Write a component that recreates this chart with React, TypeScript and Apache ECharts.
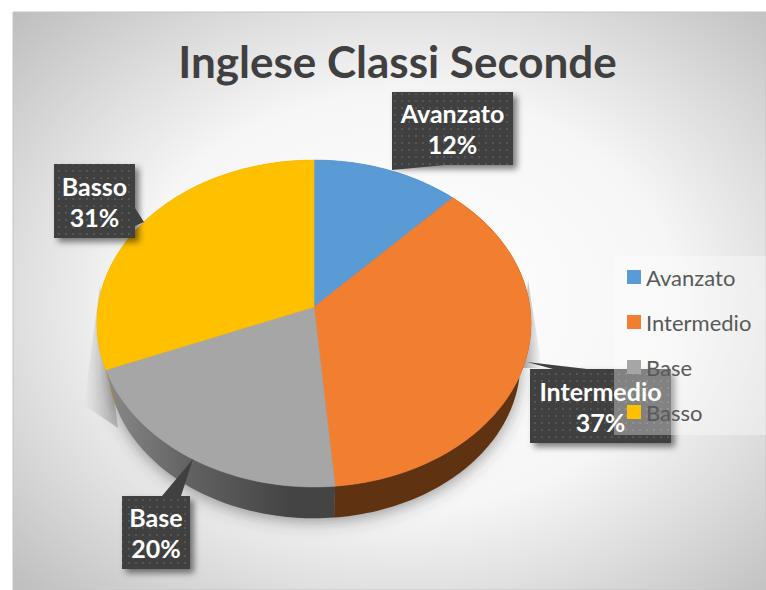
import React, { useEffect, useRef } from "react";
import * as echarts from "echarts";

const TITLE = "Inglese Classi Seconde";
const categories = ["Avanzato", "Intermedio", "Base", "Basso"];
const shares = [12.1, 36.5, 20.3, 31.1];
const percentLabels = ["12%", "37%", "20%", "31%"];
const capColors = ["#5b9bd5", "#f27f30", "#a6a6a6", "#ffc000"];

const HUB = [314, 307];
const ELLIPSE_MID_Y = 323.5;
const FLOOR_MID_Y = 363;
const FLOOR_SCALE = 0.95;

function rim(share: number): [number, number] {
  const a = (share / 100) * Math.PI * 2;
  const u = Math.sin(a);
  const v = -Math.cos(a);
  const den = 1 - 0.1009 * v;
  return [HUB[0] + (216 * u) / den, HUB[1] + (161.8 * v) / den];
}
function floor(p: [number, number]): [number, number] {
  return [
    HUB[0] + (p[0] - HUB[0]) * FLOOR_SCALE,
    FLOOR_MID_Y + (p[1] - ELLIPSE_MID_Y) * FLOOR_SCALE,
  ];
}
function arcPoints(from: number, to: number) {
  const pts: [number, number][] = [];
  const n = Math.ceil((to - from) * 3);
  for (let i = 0; i <= n; i++) pts.push(rim(from + ((to - from) * i) / n));
  return pts;
}

function makeDotPattern() {
  const c = document.createElement("canvas");
  c.width = 7;
  c.height = 7;
  const g = c.getContext("2d")!;
  g.fillStyle = "#404040";
  g.fillRect(0, 0, 7, 7);
  g.fillStyle = "#565656";
  g.fillRect(2, 2, 2, 2);
  return c;
}

const wallFills: any[] = [
  "#3f6d96",
  "#5f3212",
  {
    type: "linear",
    global: true,
    x: 105,
    y: 0,
    x2: 290,
    y2: 0,
    colorStops: [
      { offset: 0, color: "#8a8a8a" },
      { offset: 0.45, color: "#626262" },
      { offset: 1, color: "#444444" },
    ],
  },
  "#b38600",
];

// callouts: [left, top, width, height], tail tip, tail base
const calloutBoxes = [
  { box: [392, 92, 121, 73], tail: [[392, 170], [392, 165], [445, 165]] },
  { box: [530, 369, 141, 74], tail: [[527, 362], [553, 369], [587, 369]] },
  { box: [122, 496, 68, 73], tail: [[193, 459], [162, 496], [181, 496]] },
  { box: [54, 164, 81, 74], tail: [[144, 222], [135, 208], [135, 226]] },
];

export default function App() {
  const ref = useRef<HTMLDivElement>(null);
  useEffect(() => {
    document.body.style.margin = "0";
    const chart = echarts.init(ref.current!, null, { renderer: "svg" });
    const pattern: any = { image: makeDotPattern(), repeat: "repeat" };
    let cum = 0;
    const series = categories.map((name, i) => {
      const from = cum;
      const to = cum + shares[i];
      cum = to;
      return {
        type: "custom",
        name,
        coordinateSystem: "none",
        itemStyle: { color: capColors[i] },
        data: [shares[i]],
        renderItem: () => {
          const arc = arcPoints(from, to);
          const wall = [...arc, ...arc.slice().reverse().map(floor)];
          const c = calloutBoxes[i];
          const [bx, by, bw, bh] = c.box;
          const cap: any = [HUB, ...arc];
          const midX = bx + bw / 2;
          const children: any[] = [
            {
              type: "polygon",
              z2: 1,
              shape: { points: wall },
              style: { fill: wallFills[i] },
            },
            {
              type: "polygon",
              z2: 10,
              shape: { points: cap },
              style: { fill: capColors[i], stroke: capColors[i], lineWidth: 0.5 },
            },
            {
              type: "rect",
              z2: 20,
              shape: { x: bx, y: by, width: bw, height: bh },
              style: {
                fill: pattern,
                shadowBlur: 6,
                shadowOffsetX: 4,
                shadowOffsetY: 4,
                shadowColor: "rgba(0,0,0,0.5)",
              },
            },
            {
              type: "polygon",
              z2: 21,
              shape: { points: c.tail },
              style: { fill: "#404040" },
            },
            {
              type: "text",
              z2: 22,
              x: midX,
              y: by + bh / 2,
              style: {
                text: name + "\n" + percentLabels[i],
                fill: "#ffffff",
                font: "bold 25px Lato",
                lineHeight: 31,
                align: "center",
                verticalAlign: "middle",
              },
            },
          ];
          if (i === 0) {
            children.unshift({
              type: "ellipse",
              z2: 0,
              shape: { cx: 314, cy: 362, rx: 204, ry: 153 },
              style: {
                fill: "#808080",
                shadowBlur: 18,
                shadowOffsetY: 5,
                shadowColor: "rgba(60,60,60,0.6)",
              },
            });
          }
          return { type: "group", children };
        },
      };
    });

    chart.setOption({
      animation: false,
      title: {
        text: TITLE,
        left: 392.5,
        textAlign: "center",
        top: 34,
        textStyle: { color: "#404040", fontFamily: "Lato", fontWeight: "bold", fontSize: 44 },
      },
      legend: {
        orient: "vertical",
        left: 614,
        top: 256,
        padding: [10, 60, 12, 13],
        icon: "rect",
        itemWidth: 14,
        itemHeight: 14,
        itemGap: 23,
        backgroundColor: "rgba(255,255,255,0.35)",
        data: categories,
        textStyle: { color: "#595959", fontFamily: "Lato", fontSize: 22, lineHeight: 21 },
      },
      graphic: {
        elements: [
          {
            type: "rect",
            z: -10,
            silent: true,
            shape: { x: 13, y: 12, width: 753, height: 578 },
            style: {
              fill: {
                type: "radial",
                x: 0.52,
                y: 0.5,
                r: 0.72,
                colorStops: [
                  { offset: 0, color: "#ffffff" },
                  { offset: 0.5, color: "#f6f6f6" },
                  { offset: 0.72, color: "#dedede" },
                  { offset: 1, color: "#bebebe" },
                ],
              },
              stroke: "#c4c4c4",
              lineWidth: 1,
            },
          },
          {
            type: "polygon",
            z: -5,
            silent: true,
            shape: { points: [[100, 285], [84, 405], [118, 428], [112, 380]] },
            style: {
              fill: {
                type: "linear",
                global: true,
                x: 84,
                y: 0,
                x2: 112,
                y2: 0,
                colorStops: [
                  { offset: 0, color: "rgba(130,130,130,0)" },
                  { offset: 1, color: "rgba(130,130,130,0.45)" },
                ],
              },
            },
          },
          {
            type: "polygon",
            z: -5,
            silent: true,
            shape: { points: [[528, 280], [542, 368], [522, 368]] },
            style: {
              fill: {
                type: "linear",
                global: true,
                x: 526,
                y: 0,
                x2: 542,
                y2: 0,
                colorStops: [
                  { offset: 0, color: "rgba(130,130,130,0.5)" },
                  { offset: 1, color: "rgba(130,130,130,0)" },
                ],
              },
            },
          },
        ],
      },
      series,
    });
    return () => chart.dispose();
  }, []);
  return <div ref={ref} style={{ position: "absolute", left: 0, top: 0, width: 766, height: 590 }} />;
}
